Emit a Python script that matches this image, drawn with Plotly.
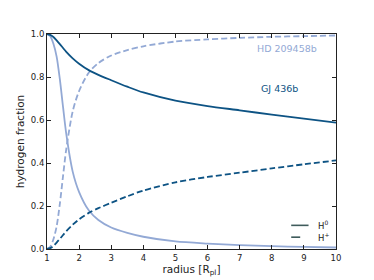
import plotly.graph_objects as go

radius = [1.0, 1.1, 1.2, 1.3, 1.4, 1.5, 1.6, 1.8, 2.0, 2.3, 2.6, 3.0, 3.5, 4.0, 5.0, 6.0, 7.0, 8.0, 9.0, 10.0]

gj_h0 = [1.0, 0.996, 0.986, 0.97, 0.953, 0.935, 0.917, 0.887, 0.862, 0.832, 0.81, 0.785, 0.755, 0.728, 0.69, 0.665, 0.645, 0.625, 0.606, 0.588]
gj_hp = [0.0, 0.004, 0.014, 0.03, 0.047, 0.065, 0.083, 0.113, 0.138, 0.168, 0.19, 0.215, 0.245, 0.272, 0.31, 0.335, 0.355, 0.375, 0.394, 0.412]

hd_h0 = [1.0, 0.99, 0.955, 0.895, 0.79, 0.66, 0.535, 0.36, 0.265, 0.18, 0.135, 0.1, 0.075, 0.057, 0.035, 0.025, 0.018, 0.013, 0.01, 0.007]
hd_hp = [0.0, 0.01, 0.045, 0.105, 0.21, 0.34, 0.465, 0.64, 0.735, 0.82, 0.865, 0.9, 0.925, 0.943, 0.965, 0.975, 0.982, 0.987, 0.99, 0.993]

x_ticks = [1, 2, 3, 4, 5, 6, 7, 8, 9, 10]
y_ticks = [0.0, 0.2, 0.4, 0.6, 0.8, 1.0]

DARK = "#0d5384"
LIGHT = "#93a9d5"
KEY = "#3f5c5c"
FONT = "DejaVu Sans"

fig = go.Figure()
fig.add_trace(go.Scatter(x=radius, y=hd_h0, mode="lines", line=dict(color=LIGHT, width=1.8, shape="spline", smoothing=0.8), showlegend=False))
fig.add_trace(go.Scatter(x=radius, y=hd_hp, mode="lines", line=dict(color=LIGHT, width=1.8, dash="6px,3px", shape="spline", smoothing=0.8), showlegend=False))
fig.add_trace(go.Scatter(x=radius, y=gj_h0, mode="lines", line=dict(color=DARK, width=1.8, shape="spline", smoothing=0.8), showlegend=False))
fig.add_trace(go.Scatter(x=radius, y=gj_hp, mode="lines", line=dict(color=DARK, width=1.8, dash="6px,3px", shape="spline", smoothing=0.8), showlegend=False))

axis_common = dict(showgrid=False, zeroline=False, showline=True, linecolor="#222", linewidth=1,
                   mirror="ticks", ticks="inside", ticklen=4, tickcolor="#222", automargin=False,
                   tickfont=dict(family=FONT, size=8.5, color="#222"))

fig.update_xaxes(range=[1, 10], tickvals=x_ticks, ticktext=[str(v) for v in x_ticks],
                 ticklabelstandoff=1,
                 title=dict(text="radius [R<sub>pl</sub>]", font=dict(family=FONT, size=10.5, color="#222"), standoff=2),
                 **axis_common)
fig.update_yaxes(range=[0, 1], tickvals=y_ticks, ticktext=[f"{v:.1f}" for v in y_ticks],
                 title=dict(text="hydrogen fraction", font=dict(family=FONT, size=10.5, color="#222"), standoff=4),
                 **axis_common)

fig.add_annotation(x=0.94, y=0.932, xref="paper", yref="paper", text="HD 209458b", showarrow=False,
                   xanchor="right", yanchor="middle", font=dict(family=FONT, size=9.5, color=LIGHT))
fig.add_annotation(x=0.876, y=0.745, xref="paper", yref="paper", text="GJ 436b", showarrow=False,
                   xanchor="right", yanchor="middle", font=dict(family=FONT, size=9.5, color=DARK))

# legend keys
for yk, dash, lab in [(0.11, "solid", "H<sup>0</sup>"), (0.055, "dash", "H<sup>+</sup>")]:
    fig.add_shape(type="line", xref="paper", yref="paper", x0=0.845, x1=0.905, y0=yk, y1=yk,
                  line=dict(color=KEY, width=1.6, dash=dash))
    fig.add_annotation(x=0.93, y=yk, xref="paper", yref="paper", text=lab, showarrow=False,
                       xanchor="left", yanchor="middle", font=dict(family=FONT, size=8.5, color="#222"))

fig.update_layout(width=374, height=280, margin=dict(l=47, r=38, t=34, b=31),
                  paper_bgcolor="white", plot_bgcolor="white", showlegend=False)

fig.write_html("out.html", config={"displayModeBar": False},
               post_script="document.body.style.margin='0';")
